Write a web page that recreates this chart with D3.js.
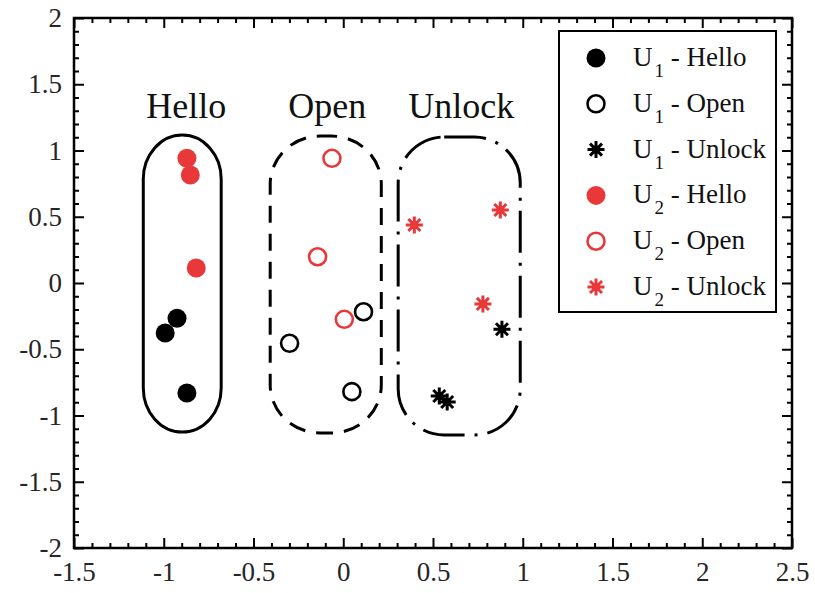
<!DOCTYPE html>
<html>
<head>
<meta charset="utf-8">
<script src="https://cdn.jsdelivr.net/npm/d3@7"></script>
<style>
  html, body { margin: 0; padding: 0; background: #fff; }
  svg { display: block; }
  text { font-family: "Liberation Serif", "Times New Roman", serif; }
</style>
</head>
<body>
<svg id="chart" width="815" height="593"></svg>
<script>
// ---------------- data ----------------
const xTicks = [-1.5, -1, -0.5, 0, 0.5, 1, 1.5, 2, 2.5];
const yTicks = [-2, -1.5, -1, -0.5, 0, 0.5, 1, 1.5, 2];
const xTickLabels = ["-1.5", "-1", "-0.5", "0", "0.5", "1", "1.5", "2", "2.5"];
const yTickLabels = ["-2", "-1.5", "-1", "-0.5", "0", "0.5", "1", "1.5", "2"];

const u1Hello  = [[-0.926, -0.266], [-0.992, -0.377], [-0.871, -0.830]];
const u1Open   = [[0.113, -0.217], [-0.299, -0.455], [0.048, -0.820]];
const u1Unlock = [[0.884, -0.349], [0.535, -0.853], [0.579, -0.898]];
const u2Hello  = [[-0.871, 0.941], [-0.852, 0.815], [-0.819, 0.113]];
const u2Open   = [[-0.063, 0.941], [-0.143, 0.198], [0.006, -0.274]];
const u2Unlock = [[0.396, 0.438], [0.875, 0.551], [0.778, -0.158]];

// group enclosures: [xMin, xMax, yMin, yMax]
const groupNames = ["Hello", "Open", "Unlock"];
const groupBounds = [
  [-1.114, -0.680, -1.125, 1.117],
  [-0.407, 0.212, -1.132, 1.109],
  [0.306, 0.986, -1.147, 1.102]
];
const groupLabelPos = [[-0.875, 1.245], [-0.089, 1.245], [0.657, 1.245]];

const legendLabels = [
  ["U", "1", " - Hello"], ["U", "1", " - Open"], ["U", "1", " - Unlock"],
  ["U", "2", " - Hello"], ["U", "2", " - Open"], ["U", "2", " - Unlock"]
];

// ---------------- drawing ----------------
const RED = "#e8383a";
const BLACK = "#000";
const svg = d3.select("#chart");
const x = d3.scaleLinear().domain([-1.5, 2.5]).range([74, 792]);
const y = d3.scaleLinear().domain([-2, 2]).range([548, 18]);

const minor = d3.range(-15, 26).map(i => i / 10).filter(v => Math.abs(v * 2 - Math.round(v * 2)) > 1e-6);
const minorY = d3.range(-20, 21).map(i => i / 10).filter(v => Math.abs(v * 2 - Math.round(v * 2)) > 1e-6);

function styleAxis(g) {
  g.select(".domain").remove();
  g.selectAll(".tick line").attr("stroke", "#000").attr("stroke-width", 2);
  g.selectAll(".tick text").attr("fill", "#262626").attr("font-size", 27)
    .attr("font-family", '"Liberation Serif", serif');
}

// bottom
svg.append("g").attr("transform", `translate(0,${y(-2)})`)
  .call(d3.axisBottom(x).tickValues(xTicks).tickSize(-10).tickPadding(14)
    .tickFormat((d, i) => xTickLabels[i]))
  .call(styleAxis);
svg.append("g").attr("transform", `translate(0,${y(-2)})`)
  .call(d3.axisBottom(x).tickValues(minor).tickSize(-5).tickFormat(""))
  .call(styleAxis);
// top
svg.append("g").attr("transform", `translate(0,${y(2)})`)
  .call(d3.axisTop(x).tickValues(xTicks).tickSize(-10).tickFormat(""))
  .call(styleAxis);
svg.append("g").attr("transform", `translate(0,${y(2)})`)
  .call(d3.axisTop(x).tickValues(minor).tickSize(-5).tickFormat(""))
  .call(styleAxis);
// left
svg.append("g").attr("transform", `translate(${x(-1.5)},0)`)
  .call(d3.axisLeft(y).tickValues(yTicks).tickSize(-10).tickPadding(12)
    .tickFormat((d, i) => yTickLabels[i]))
  .call(styleAxis);
svg.append("g").attr("transform", `translate(${x(-1.5)},0)`)
  .call(d3.axisLeft(y).tickValues(minorY).tickSize(-5).tickFormat(""))
  .call(styleAxis);
// right
svg.append("g").attr("transform", `translate(${x(2.5)},0)`)
  .call(d3.axisRight(y).tickValues(yTicks).tickSize(-10).tickFormat(""))
  .call(styleAxis);
svg.append("g").attr("transform", `translate(${x(2.5)},0)`)
  .call(d3.axisRight(y).tickValues(minorY).tickSize(-5).tickFormat(""))
  .call(styleAxis);

// frame
svg.append("rect")
  .attr("x", x(-1.5)).attr("y", y(2))
  .attr("width", x(2.5) - x(-1.5)).attr("height", y(-2) - y(2))
  .attr("fill", "none").attr("stroke", "#000").attr("stroke-width", 2.5);

// group enclosures
const dashes = [null, "17,11", "42,10,3,10"];
const radii = [[39, 44], [50, 48], [46, 46]];
groupBounds.forEach((b, i) => {
  const w = x(b[1]) - x(b[0]);
  svg.append("rect")
    .attr("x", x(b[0])).attr("y", y(b[3]))
    .attr("width", w).attr("height", y(b[2]) - y(b[3]))
    .attr("rx", Math.min(radii[i][0], w / 2)).attr("ry", radii[i][1])
    .attr("fill", "none").attr("stroke", "#000").attr("stroke-width", 3)
    .attr("stroke-dasharray", dashes[i]);
  svg.append("text")
    .attr("x", x(groupLabelPos[i][0])).attr("y", y(groupLabelPos[i][1]))
    .attr("text-anchor", "middle").attr("font-size", 36).attr("fill", "#111")
    .text(groupNames[i]);
});

// marker helpers
function starPath(r) {
  let p = "";
  for (let k = 0; k < 4; k++) {
    const a = k * Math.PI / 4;
    const dx = r * Math.cos(a), dy = r * Math.sin(a);
    p += `M${-dx},${-dy}L${dx},${dy}`;
  }
  return p;
}
function drawMarker(g, type, color, cx, cy) {
  if (type === "filled") {
    g.append("circle").attr("cx", cx).attr("cy", cy).attr("r", 9.5).attr("fill", color);
  } else if (type === "open") {
    g.append("circle").attr("cx", cx).attr("cy", cy).attr("r", 8.5)
      .attr("fill", "none").attr("stroke", color).attr("stroke-width", 2.6);
  } else {
    g.append("path").attr("transform", `translate(${cx},${cy})`)
      .attr("d", starPath(8.5)).attr("stroke", color).attr("stroke-width", 3)
      .attr("stroke-linecap", "butt").attr("fill", "none");
    g.append("circle").attr("cx", cx).attr("cy", cy).attr("r", 4).attr("fill", color);
  }
}

const seriesList = [
  [u1Hello, "filled", BLACK], [u1Open, "open", BLACK], [u1Unlock, "star", BLACK],
  [u2Hello, "filled", RED], [u2Open, "open", RED], [u2Unlock, "star", RED]
];
const pts = svg.append("g");
seriesList.forEach(([data, type, color]) => {
  data.forEach(d => drawMarker(pts, type, color, x(d[0]), y(d[1])));
});

// legend
const lg = svg.append("g");
lg.append("rect").attr("x", 559).attr("y", 31).attr("width", 217).attr("height", 281)
  .attr("fill", "#fff").attr("stroke", "#000").attr("stroke-width", 2);
seriesList.forEach(([data, type, color], i) => {
  const cy = 58 + i * 45.8;
  drawMarker(lg, type, color, 596, cy);
  const t = lg.append("text").attr("x", 633).attr("y", cy + 8)
    .attr("font-size", 27).attr("fill", "#111");
  t.append("tspan").text(legendLabels[i][0]);
  t.append("tspan").attr("font-size", 19).attr("dy", 11).attr("dx", 2).text(legendLabels[i][1]);
  t.append("tspan").attr("dy", -11).text(legendLabels[i][2]);
});
</script>
</body>
</html>
